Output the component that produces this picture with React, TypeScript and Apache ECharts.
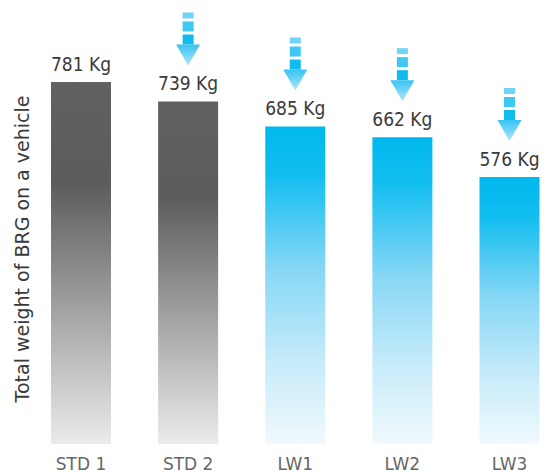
import React, { useEffect, useRef } from "react";
import * as echarts from "echarts";

const categories = ["STD 1", "STD 2", "LW1", "LW2", "LW3"];
const weights = [781, 739, 685, 662, 576];
const unit = "Kg";
const barGroups = ["std", "std", "lw", "lw", "lw"];
const arrowFlags = [false, true, true, true, true];
const axisTitle = "Total weight of BRG on a vehicle";

const FONT = '"DejaVu Sans Condensed", "Liberation Sans Narrow", "DejaVu Sans", sans-serif';
const FONT2 = '"DejaVu Sans", sans-serif';

function grad(stops: [number, string][]) {
  return new echarts.graphic.LinearGradient(
    0, 0, 0, 1,
    stops.map(([offset, color]) => ({ offset, color }))
  );
}

const grayFill = () =>
  grad([[0, "#616161"], [0.28, "#5c5c5c"], [0.65, "#a6a6a6"], [1, "#ebebeb"]]);
const blueFill = () =>
  grad([[0, "#00b8ee"], [0.15, "#12bdf0"], [0.45, "#86d7f5"], [0.75, "#c8ecfa"], [1, "#f0f9fd"]]);

export default function App() {
  const ref = useRef<HTMLDivElement>(null);
  useEffect(() => {
    if (!ref.current) return;
    const chart = echarts.init(ref.current, undefined, { renderer: "svg" });
    const barData = weights.map((v, i) => ({
      value: v,
      itemStyle: { color: barGroups[i] === "std" ? grayFill() : blueFill() },
    }));
    const arrowData = weights
      .map((v, i) => [i, v])
      .filter((_, i) => arrowFlags[i]);

    chart.setOption({
      animation: false,
      backgroundColor: "#ffffff",
      grid: { left: 81, right: 44.5, top: 73.2, bottom: 28 },
      xAxis: {
        type: "category",
        data: categories,
        boundaryGap: false,
        axisLine: { show: false },
        axisTick: { show: false },
        axisLabel: { color: "#666666", fontSize: 17, margin: 11, fontFamily: FONT2 },
      },
      yAxis: {
        type: "value",
        min: 0,
        max: 800,
        show: false,
        splitLine: { show: false },
      },
      graphic: [
        {
          type: "text",
          x: 22,
          y: 249,
          rotation: Math.PI / 2,
          style: {
            text: axisTitle,
            fontSize: 19,
            fontFamily: FONT2,
            fill: "#3a3a3a",
            textAlign: "center",
            textVerticalAlign: "middle",
          },
        },
      ],
      series: [
        {
          type: "bar",
          data: barData,
          barWidth: 60,
          label: {
            show: true,
            position: "top",
            distance: 9,
            color: "#3a3a3a",
            fontSize: 19,
            fontFamily: FONT,
            formatter: (p: any) => `${p.value} ${unit}`,
          },
        },
        {
          type: "custom",
          clip: false,
          data: arrowData,
          encode: { x: 0, y: 1 },
          renderItem: (params: any, api: any) => {
            const p = api.coord([api.value(0), api.value(1)]);
            return {
              type: "group",
              x: p[0],
              y: p[1] - 36,
              children: [
                { type: "rect", shape: { x: -5.5, y: -53, width: 11, height: 6 }, style: { fill: "#70d4f6" } },
                { type: "rect", shape: { x: -5.5, y: -44, width: 11, height: 10 }, style: { fill: "#3ec8f3" } },
                { type: "rect", shape: { x: -5.5, y: -31, width: 11, height: 10 }, style: { fill: "#10bbef" } },
                {
                  type: "polygon",
                  shape: { points: [[-12, -21], [12, -21], [0, 0]] },
                  style: {
                    fill: new echarts.graphic.LinearGradient(0, 0, 0, 1, [
                      { offset: 0, color: "#36c3f2" },
                      { offset: 1, color: "#b3e6f9" },
                    ]),
                  },
                },
              ],
            };
          },
        },
      ],
    });
    return () => chart.dispose();
  }, []);
  return (
    <div
      ref={ref}
      style={{ position: "fixed", left: 0, top: 0, width: 554, height: 472 }}
    />
  );
}
